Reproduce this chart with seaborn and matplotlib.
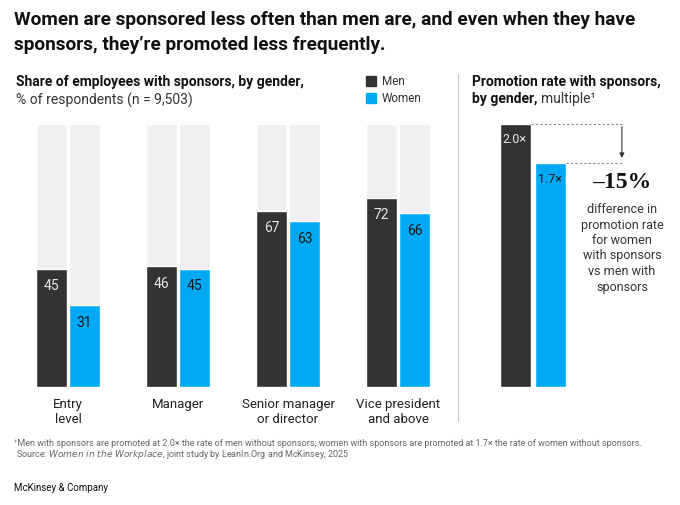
import matplotlib
matplotlib.use("Agg")
import matplotlib.pyplot as plt
import seaborn as sns
import pandas as pd

levels = ["Entry\nlevel", "Manager", "Senior manager\nor director", "Vice president\nand above"]
men_share = [45, 46, 67, 72]
women_share = [31, 45, 63, 66]
genders = ["Men", "Women"]
promo_rate = [2.0, 1.7]
promo_labels = ["2.0×", "1.7×"]
diff_label = "–15%"

MEN_C = "#333333"
WOMEN_C = "#00a9f4"
BG_C = "#f0f0f0"

sns.set_theme(style="white")
plt.rcParams["font.family"] = ["Roboto", "DejaVu Sans"]

W, H = 680, 506
fig = plt.figure(figsize=(W / 100, H / 100), dpi=100)

def px_axes(x0, y_top, x1, y_bot):
    return fig.add_axes([x0 / W, 1 - y_bot / H, (x1 - x0) / W, (y_bot - y_top) / H])

df = pd.DataFrame({
    "level": levels * 2,
    "gender": ["Men"] * 4 + ["Women"] * 4,
    "share": men_share + women_share,
})
df["full"] = 100

# Left panel: group centers at 68..398 px, 110 px per unit
ax = px_axes(68 - 55, 125, 398 + 55, 388)
sns.barplot(data=df, x="level", y="full", hue="gender", palette=[BG_C, BG_C],
            width=0.6, gap=0.07, ax=ax, legend=False, saturation=1)
sns.barplot(data=df, x="level", y="share", hue="gender", palette=[MEN_C, WOMEN_C],
            width=0.6, gap=0.07, ax=ax, legend=False, saturation=1)
ax.set_ylim(0, 100)
ax.set_xlim(-0.5, 3.5)
for i, cont in enumerate(ax.containers[2:]):
    col = "#e6e6e6" if i == 0 else "#1a1a1a"
    ax.bar_label(cont, labels=[f"{v:.0f}" for v in cont.datavalues], label_type="edge",
                 padding=-17, color=col, fontsize=10)
ax.set_xlabel("")
ax.set_ylabel("")
ax.set_yticks([])
ax.tick_params(axis="x", length=0, pad=7, labelsize=9.5, labelcolor="#222222")
for s in ax.spines.values():
    s.set_visible(False)

# Right panel
ax2 = px_axes(515.5 - 17.5, 125, 515.5 + 35 * 4.5, 388)
sns.barplot(x=genders, y=promo_rate, hue=genders, palette=[MEN_C, WOMEN_C],
            width=0.886, ax=ax2, legend=False, saturation=1)
ax2.set_ylim(0, 2.0)
ax2.set_xlim(-0.5, 4.5)
ax2.set_xticks([])
ax2.set_yticks([])
for s in ax2.spines.values():
    s.set_visible(False)
for i, (v, lab) in enumerate(zip(promo_rate, promo_labels)):
    ax2.annotate(lab, xy=(i - 0.443, v), xytext=(2, -10.5), textcoords="offset points",
                 ha="left", va="center", fontsize=9,
                 color="#e6e6e6" if i == 0 else "#1a1a1a")
xa = 3.04
ax2.plot([0.443, xa], [promo_rate[0]] * 2, ls=(0, (2, 2)), color="#888888", lw=0.8, clip_on=False)
ax2.plot([1.443, xa], [promo_rate[1]] * 2, ls=(0, (2, 2)), color="#888888", lw=0.8, clip_on=False)
ax2.annotate("", xy=(xa, promo_rate[1] + 0.02), xytext=(xa, promo_rate[0]),
             arrowprops=dict(arrowstyle="-|>", color="#333333", lw=0.8, mutation_scale=7),
             annotation_clip=False)
fig.text(622 / W, 1 - 183 / H, diff_label, ha="center", va="center", fontsize=17,
         fontweight="bold", family=["Liberation Serif", "DejaVu Serif"], color="#111111")
fig.text(622 / W, 1 - 203 / H,
         "difference in\npromotion rate\nfor women\nwith sponsors\nvs men with\nsponsors",
         ha="center", va="top", fontsize=9, color="#333333", linespacing=1.25)

# divider
fig.add_artist(plt.Line2D([458 / W, 458 / W], [1 - 75 / H, 1 - 422 / H], color="#cccccc", lw=0.8))

# Titles
fig.text(14 / W, 1 - 20 / H, "Women are sponsored less often than men are, and even when they have",
         ha="left", va="center", fontsize=13.7, fontweight="bold", color="#111111")
fig.text(14 / W, 1 - 45 / H, "sponsors, they’re promoted less frequently.",
         ha="left", va="center", fontsize=13.7, fontweight="bold", color="#111111")
fig.text(16 / W, 1 - 82 / H, "Share of employees with sponsors, by gender,",
         ha="left", va="center", fontsize=10, fontweight="bold", color="#111111")
fig.text(16 / W, 1 - 100 / H, "% of respondents (n = 9,503)",
         ha="left", va="center", fontsize=10, color="#333333")
fig.text(472 / W, 1 - 82 / H, "Promotion rate with sponsors,",
         ha="left", va="center", fontsize=10, fontweight="bold", color="#111111")
fig.text(472 / W, 1 - 99 / H, "by gender, ", ha="left", va="center", fontsize=10,
         fontweight="bold", color="#111111")
fig.text(541 / W, 1 - 99 / H, "multiple¹", ha="left", va="center", fontsize=10, color="#333333")

# Legend
for j, (g, c) in enumerate(zip(genders, [MEN_C, WOMEN_C])):
    yc = 82 + j * 17
    fig.add_artist(plt.Rectangle((366 / W, 1 - (yc + 5) / H), 10 / W, 10 / H, color=c,
                                 transform=fig.transFigure))
    fig.text(382 / W, 1 - yc / H, g, ha="left", va="center", fontsize=8.5, color="#333333")

# Footnotes
fig.text(14 / W, 1 - 443 / H,
         "¹Men with sponsors are promoted at 2.0× the rate of men without sponsors; women with sponsors are promoted at 1.7× the rate of women without sponsors.",
         ha="left", va="center", fontsize=6.5, color="#666666")
fig.text(16 / W, 1 - 455 / H,
         r"Source: $\it{Women\ in\ the\ Workplace}$, joint study by LeanIn.Org and McKinsey, 2025",
         ha="left", va="center", fontsize=6.5, color="#666666")
fig.text(14 / W, 1 - 488 / H, "McKinsey & Company", ha="left", va="center", fontsize=7,
         color="#111111")

fig.savefig("out.png", dpi=100, facecolor="white")
